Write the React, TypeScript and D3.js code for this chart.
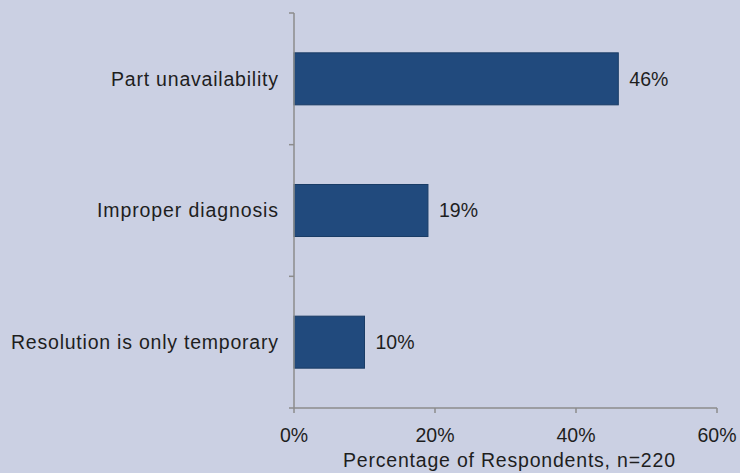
import React from "react";
import * as d3 from "d3";

const categories = ["Part unavailability", "Improper diagnosis", "Resolution is only temporary"];
const values = [46, 19, 10];
const xTicks = [0, 20, 40, 60];
const xTitle = "Percentage of Respondents, n=220";

// rendered widths of the longer strings, so the wide typeface keeps its spacing
const labelWidths = [167, 181, 267];
const titleWidth = 332;

const W = 740;
const H = 473;
const margin = { left: 294, right: 23, top: 13, bottom: 65 };

export default function App() {
  const x = d3.scaleLinear().domain([0, 60]).range([margin.left, W - margin.right]);
  const y = d3
    .scaleBand<string>()
    .domain(categories)
    .range([margin.top, H - margin.bottom])
    .paddingInner(0.605)
    .paddingOuter(0.3025);

  const band = (H - margin.bottom - margin.top) / categories.length;
  const catTicks = d3.range(categories.length + 1).map((i) => margin.top + i * band);
  const y0 = H - margin.bottom;
  const font = "'Liberation Sans', Arial, sans-serif";
  const textColor = "#1e1e1e";
  const axisColor = "#8c8c8c";
  const fs = 19.5;

  return (
    <svg
      width={W}
      height={H}
      style={{ position: "absolute", left: 0, top: 0, display: "block" }}
      fontFamily={font}
    >
      <rect x={0} y={0} width={W} height={H} fill="#cbd0e3" />

      {categories.map((c, i) => (
        <g key={c}>
          <rect
            x={x(0)}
            y={y(c)}
            width={x(values[i]) - x(0)}
            height={y.bandwidth()}
            fill="#214a7d"
            stroke="#1a3c66"
            strokeWidth={1}
          />
          <text
            x={x(values[i]) + 11}
            y={(y(c) as number) + y.bandwidth() / 2}
            dy="0.35em"
            fontSize={fs}
            fill={textColor}
          >
            {values[i]}%
          </text>
          <text
            x={278 - labelWidths[i]}
            y={(y(c) as number) + y.bandwidth() / 2}
            dy="0.35em"
            fontSize={fs}
            fill={textColor}
            textLength={labelWidths[i]}
            lengthAdjust="spacing"
          >
            {c}
          </text>
        </g>
      ))}

      {/* vertical category axis */}
      <line x1={x(0)} x2={x(0)} y1={margin.top} y2={y0} stroke={axisColor} strokeWidth={1.5} />
      {catTicks.map((t, i) => (
        <line key={i} x1={x(0) - 5} x2={x(0)} y1={t} y2={t} stroke={axisColor} strokeWidth={1.5} />
      ))}

      {/* horizontal value axis */}
      <line x1={x(0)} x2={x(60)} y1={y0} y2={y0} stroke={axisColor} strokeWidth={1.5} />
      {xTicks.map((t) => (
        <g key={t}>
          <line x1={x(t)} x2={x(t)} y1={y0} y2={y0 + 5} stroke={axisColor} strokeWidth={1.5} />
          <text x={x(t)} y={y0 + 34} textAnchor="middle" fontSize={fs} fill={textColor}>
            {t}%
          </text>
        </g>
      ))}
      <text
        x={509 - titleWidth / 2}
        y={y0 + 59}
        fontSize={fs}
        fill={textColor}
        textLength={titleWidth}
        lengthAdjust="spacing"
      >
        {xTitle}
      </text>
    </svg>
  );
}
